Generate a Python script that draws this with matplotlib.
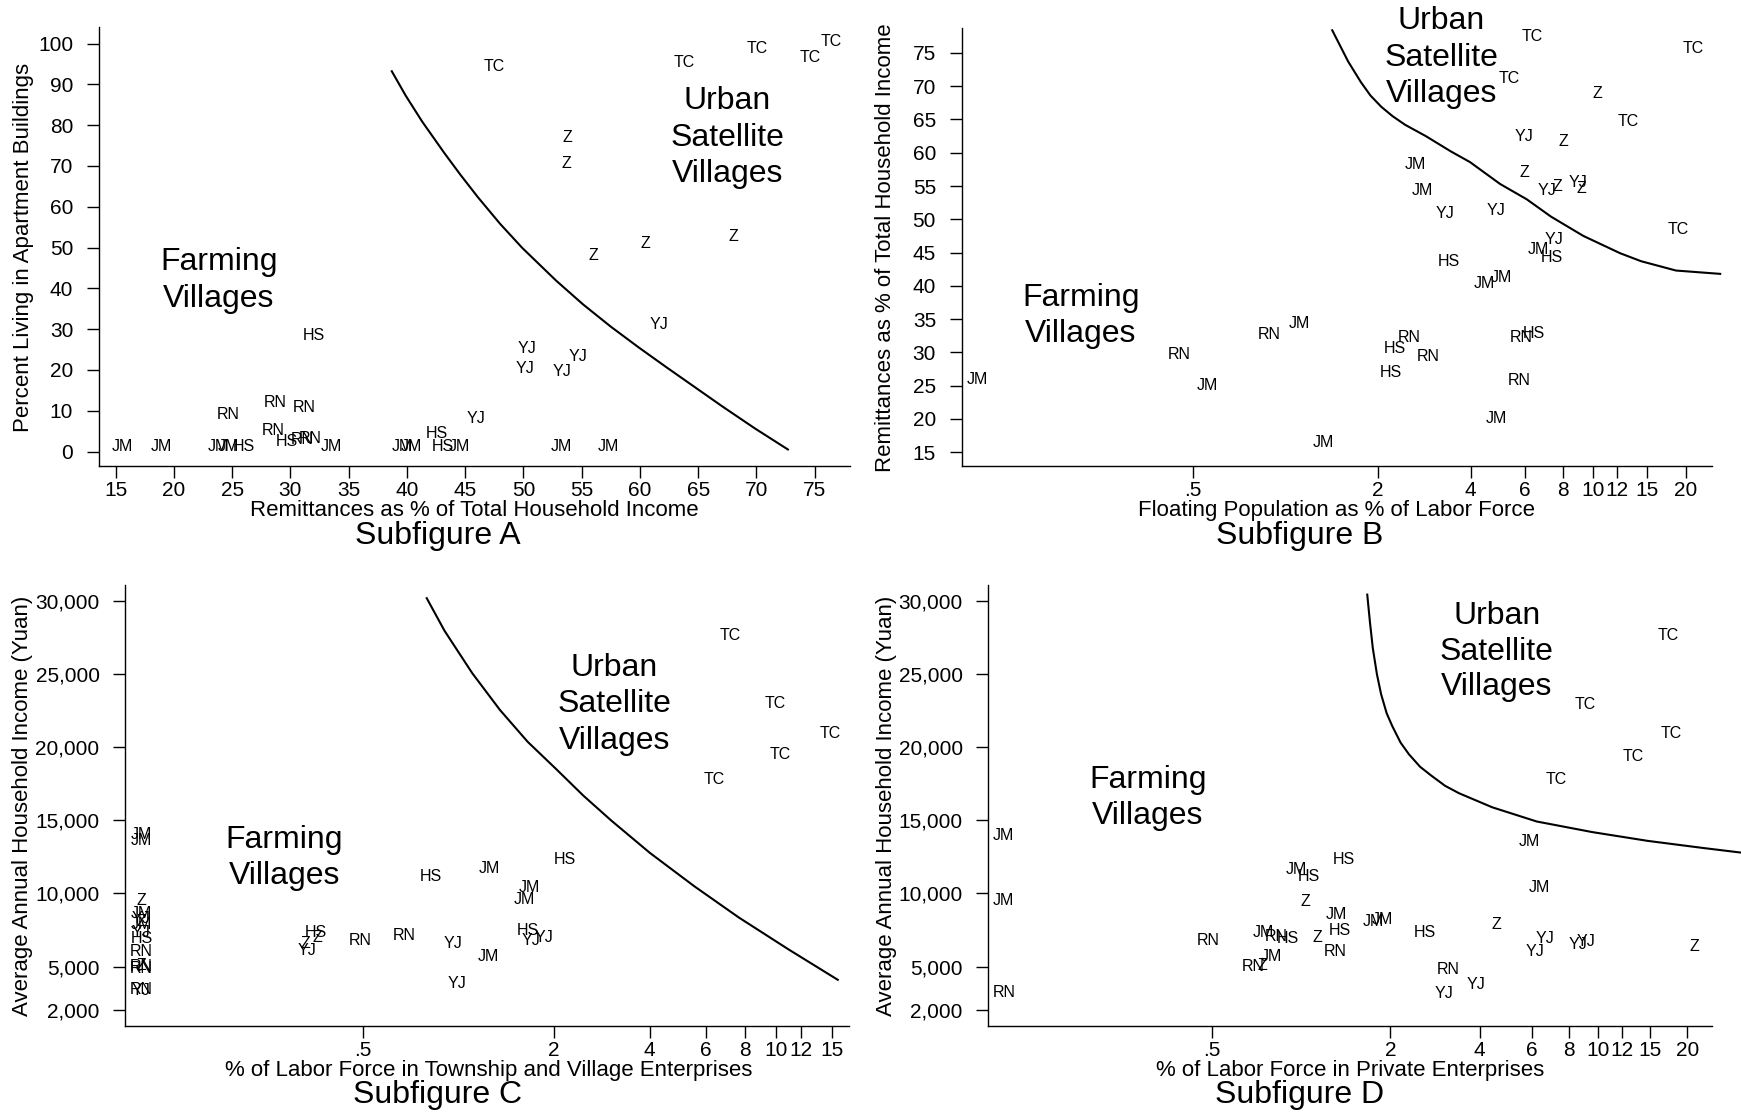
import matplotlib
matplotlib.use('Agg')
import matplotlib.pyplot as plt
from matplotlib.ticker import NullLocator

plt.rcParams['font.family'] = ['Liberation Sans', 'DejaVu Sans']
plt.rcParams['axes.linewidth'] = 1.0

W, H = 1741, 1112  # output size in pixels

# ---- Subfigure A: remittances vs apartment living ----
a_lab = ['JM', 'JM', 'JM', 'JM', 'HS', 'RN', 'RN', 'RN', 'RN', 'HS', 'RN', 'RN', 'JM', 'JM', 'JM',
         'HS', 'HS', 'JM', 'YJ', 'HS', 'YJ', 'YJ', 'YJ', 'YJ', 'JM', 'JM', 'YJ', 'Z', 'Z', 'Z', 'Z', 'Z',
         'TC', 'TC', 'TC', 'TC', 'TC']
a_x = [15.6, 18.9, 23.8, 24.7, 26.0, 24.7, 28.7, 31.2, 28.5, 29.7, 31.0, 31.7, 33.5, 39.6, 40.4,
       42.6, 43.1, 44.5, 45.9, 32.0, 50.3, 50.1, 54.7, 53.3, 53.3, 57.3, 61.6, 56.0, 60.5, 68.0, 53.8, 53.7,
       47.5, 63.8, 70.1, 74.6, 76.4]
a_y = [1.2, 1.2, 1.2, 1.2, 1.2, 9.1, 12.0, 10.8, 5.1, 2.4, 3.0, 3.2, 1.2, 1.2, 1.2,
       4.3, 1.3, 1.2, 8.0, 28.5, 25.2, 20.3, 23.3, 19.5, 1.3, 1.3, 31.2, 48.1, 51.1, 52.7, 76.9, 70.7,
       94.3, 95.4, 98.7, 96.5, 100.6]
a_cx = [38.7, 39.9, 41.3, 43.2, 44.6, 46.1, 48.0, 49.9, 52.8, 55.1, 57.5, 59.9, 62.3, 64.7, 67.1, 69.9, 72.7]
a_cy = [93.2, 87.2, 80.9, 73.2, 67.8, 62.3, 55.8, 49.9, 41.9, 36.1, 30.6, 25.5, 20.6, 15.8, 11.0, 5.6, 0.5]

# ---- Subfigure B: floating population vs remittances ----
b_lab = ['JM', 'RN', 'JM', 'RN', 'JM', 'JM', 'RN', 'HS', 'RN', 'HS', 'RN', 'HS', 'RN', 'JM', 'JM',
         'JM', 'HS', 'JM', 'HS', 'YJ', 'YJ', 'YJ', 'JM', 'JM', 'Z', 'YJ', 'Z', 'YJ', 'Z', 'YJ', 'Z',
         'TC', 'TC', 'TC', 'Z', 'TC', 'TC']
b_x = [0.1, 0.452, 0.556, 0.887, 1.108, 1.329, 2.524, 2.273, 2.903, 2.195, 5.82, 6.40, 5.76, 4.84, 4.44,
       5.03, 3.40, 6.66, 7.35, 7.47, 3.31, 4.84, 2.65, 2.79, 5.96, 7.07, 7.66, 8.96, 9.15, 5.98, 8.0,
       6.35, 5.33, 21.2, 10.36, 12.98, 18.9]
b_y = [25.9, 29.7, 25.0, 32.7, 34.4, 16.5, 32.2, 30.6, 29.4, 27.0, 32.2, 32.9, 25.8, 20.0, 40.4,
       41.2, 43.6, 45.5, 44.3, 47.0, 50.9, 51.3, 58.3, 54.4, 57.0, 54.4, 54.9, 55.6, 54.6, 62.5, 61.7,
       77.4, 71.1, 75.6, 68.9, 64.7, 48.4]
b_cx = [1.42, 1.60, 1.76, 1.89, 2.05, 2.23, 2.45, 2.86, 3.45, 3.98, 4.99, 6.09, 7.30, 9.30, 12.25,
        14.33, 18.6, 25.9]
b_cy = [78.4, 73.7, 70.6, 68.6, 66.9, 65.5, 64.2, 62.5, 60.2, 58.6, 55.3, 53.0, 50.4, 47.5, 44.9,
        43.7, 42.3, 41.8]

# ---- Subfigure C: TVE labor share vs income ----
c_lab = ['JM', 'JM', 'Z', 'JM', 'YJ', 'Z', 'JM', 'YJ', 'HS', 'RN', 'Z', 'RN', 'RN', 'RN', 'YJ',
         'HS', 'Z', 'Z', 'YJ', 'RN', 'RN', 'YJ', 'JM', 'YJ', 'HS', 'YJ', 'YJ', 'HS', 'JM', 'JM', 'JM', 'HS',
         'TC', 'TC', 'TC', 'TC', 'TC']
c_x = [0.1, 0.1, 0.1, 0.1, 0.1, 0.1, 0.1, 0.1, 0.1, 0.1, 0.1, 0.1, 0.1, 0.1, 0.1,
       0.354, 0.359, 0.328, 0.332, 0.491, 0.671, 0.957, 1.237, 0.990, 1.657, 1.686, 1.861, 0.817, 1.252,
       1.673, 1.606, 2.165, 7.19, 9.93, 14.85, 10.33, 6.37]
c_y = [14000, 13600, 9500, 8650, 8250, 8050, 7850, 7300, 6900, 6000, 5100, 5000, 4850, 3450, 3350,
       7341, 6972, 6590, 6084, 6767, 7136, 6590, 5675, 3858, 7430, 6747, 6972, 11187, 11713,
       10429, 9589, 12321, 27643, 22937, 20894, 19453, 17786]
c_cx = [0.793, 0.902, 1.103, 1.350, 1.651, 2.020, 2.470, 3.022, 4.008, 5.53, 7.64, 10.98, 15.66]
c_cy = [30164, 27944, 25047, 22521, 20347, 18531, 16681, 14987, 12760, 10485, 8350, 6160, 4097]

# ---- Subfigure D: private enterprise labor share vs income ----
d_lab = ['JM', 'JM', 'RN', 'RN', 'JM', 'HS', 'HS', 'Z', 'JM', 'HS', 'JM', 'JM', 'HS', 'JM', 'RN',
         'HS', 'Z', 'RN', 'JM', 'RN', 'Z', 'RN', 'YJ', 'YJ', 'Z', 'YJ', 'YJ', 'YJ', 'YJ', 'Z', 'JM', 'JM',
         'TC', 'TC', 'TC', 'TC', 'TC']
d_x = [0.1, 0.1, 0.1, 0.489, 0.968, 1.061, 1.394, 1.032, 1.320, 1.354, 1.753, 1.886, 2.611, 0.747, 0.825,
       0.907, 1.136, 1.303, 0.798, 0.692, 0.744, 3.123, 3.033, 3.874, 4.563, 6.14, 6.635, 8.55, 9.12, 21.1,
       5.857, 6.33, 17.2, 9.08, 17.6, 13.16, 7.26]
d_y = [13967, 9534, 3250, 6747, 11617, 11153, 12348, 9459, 8571, 7430, 8113, 8182, 7307, 7314, 7040,
       6931, 6972, 6016, 5674, 5039, 5107, 4793, 3174, 3782, 7894, 6009, 6918, 6535, 6713, 6371,
       13537, 10402, 27616, 22903, 20894, 19378, 17786]
d_cx = [1.672, 1.709, 1.746, 1.803, 1.862, 1.944, 2.030, 2.165, 2.310, 2.518, 2.744, 3.056, 3.404,
        4.406, 6.22, 9.57, 14.72, 22.6, 30.3]
d_cy = [30410, 28450, 26742, 24950, 23599, 22300, 21427, 20300, 19501, 18650, 18052, 17350, 16843,
        15880, 14910, 14186, 13585, 13100, 12786]

log_ticks = [0.5, 2, 4, 6, 8, 10, 12, 15, 20]
log_ticklabels = ['.5', '2', '4', '6', '8', '10', '12', '15', '20']
inc_ticks = [30000, 25000, 20000, 15000, 10000, 5000, 2000]


def px_axes(fig, left, top, right, bottom):
    '''add axes from pixel edges (origin top-left)'''
    return fig.add_axes([left / W, 1 - bottom / H, (right - left) / W, (bottom - top) / H])


def px_text(fig, x, y, s, **kw):
    fig.text(x / W, 1 - y / H, s, ha='center', va='center', **kw)


def draw_panel(ax, labels, xs, ys, cx, cy):
    for lab, x, y in zip(labels, xs, ys):
        ax.text(x, y, lab, ha='center', va='center', fontsize=11.5)
    ax.plot(cx, cy, color='black', lw=1.5, clip_on=False, solid_joinstyle='round')
    ax.spines['top'].set_visible(False)
    ax.spines['right'].set_visible(False)
    ax.tick_params(axis='both', length=8.5, width=1, labelsize=15)
    ax.tick_params(axis='x', pad=2.5)
    ax.tick_params(axis='y', pad=10)


def log_x(ax, lo, hi, ticks):
    ax.set_xscale('log')
    ax.set_xlim(lo, hi)
    ax.set_xticks(ticks, log_ticklabels[:len(ticks)])
    ax.xaxis.set_minor_locator(NullLocator())


def income_y(ax):
    ax.set_ylim(961, 31038)
    ax.set_yticks(inc_ticks, ['{:,}'.format(v) for v in inc_ticks])


fig = plt.figure(figsize=(W / 100, H / 100), dpi=100)

#A
axA = px_axes(fig, 98.9, 26.8, 850, 466)
draw_panel(axA, a_lab, a_x, a_y, a_cx, a_cy)
axA.set_xlim(13.56, 78.03)
axA.set_ylim(-3.55, 104.1)
axA.set_xticks(range(15, 80, 5))
axA.set_yticks(range(0, 101, 10))

#B
axB = px_axes(fig, 961.7, 27.9, 1711.7, 466)
draw_panel(axB, b_lab, b_x, b_y, b_cx, b_cy)
log_x(axB, 0.0887, 24.3, log_ticks)
axB.set_ylim(12.93, 78.76)
axB.set_yticks(range(15, 80, 5))

#C
axC = px_axes(fig, 125.2, 585.4, 849, 1025.7)
draw_panel(axC, c_lab, c_x, c_y, c_cx, c_cy)
log_x(axC, 0.0889, 16.99, log_ticks[:-1])
income_y(axC)

#D
axD = px_axes(fig, 988.4, 585.4, 1712, 1025.7)
draw_panel(axD, d_lab, d_x, d_y, d_cx, d_cy)
log_x(axD, 0.0887, 24.2, log_ticks)
income_y(axD)

# region labels
big = 23
for x, y, s in [(218.7, 262, 'Farming'), (218.7, 298.7, 'Villages'),
                (727.2, 101, 'Urban'), (727.2, 137.7, 'Satellite'), (727.2, 174.3, 'Villages'),
                (1081, 298.5, 'Farming'), (1081, 333.5, 'Villages'),
                (1441.5, 21, 'Urban'), (1441.5, 58, 'Satellite'), (1441.5, 94, 'Villages'),
                (284.3, 840, 'Farming'), (284.3, 876, 'Villages'),
                (614.5, 667.5, 'Urban'), (614.5, 704.5, 'Satellite'), (614.5, 741.3, 'Villages'),
                (1148, 779.6, 'Farming'), (1148, 816.2, 'Villages'),
                (1496.7, 615.5, 'Urban'), (1496.7, 651.8, 'Satellite'), (1496.7, 687.3, 'Villages')]:
    px_text(fig, x, y, s, fontsize=big)

# axis titles
px_text(fig, 474, 511, 'Remittances as % of Total Household Income', fontsize=16)
px_text(fig, 1336.7, 511, 'Floating Population as % of Labor Force', fontsize=16)
px_text(fig, 488.3, 1070.6, '% of Labor Force in Township and Village Enterprises', fontsize=16)
px_text(fig, 1349.7, 1070.6, '% of Labor Force in Private Enterprises', fontsize=16)
px_text(fig, 23.3, 247.3, 'Percent Living in Apartment Buildings', fontsize=16, rotation=90)
px_text(fig, 885.6, 247.3, 'Remittances as % of Total Household Income', fontsize=16, rotation=90)
px_text(fig, 22.2, 805.6, 'Average Annual Household Income (Yuan)', fontsize=16, rotation=90)
px_text(fig, 886.7, 805.6, 'Average Annual Household Income (Yuan)', fontsize=16, rotation=90)

# subfigure captions
px_text(fig, 438, 536, 'Subfigure A', fontsize=big)
px_text(fig, 1299.6, 536, 'Subfigure B', fontsize=big)
px_text(fig, 437.5, 1095.3, 'Subfigure C', fontsize=big)
px_text(fig, 1299.2, 1095.3, 'Subfigure D', fontsize=big)

fig.savefig('out.png', dpi=100)
